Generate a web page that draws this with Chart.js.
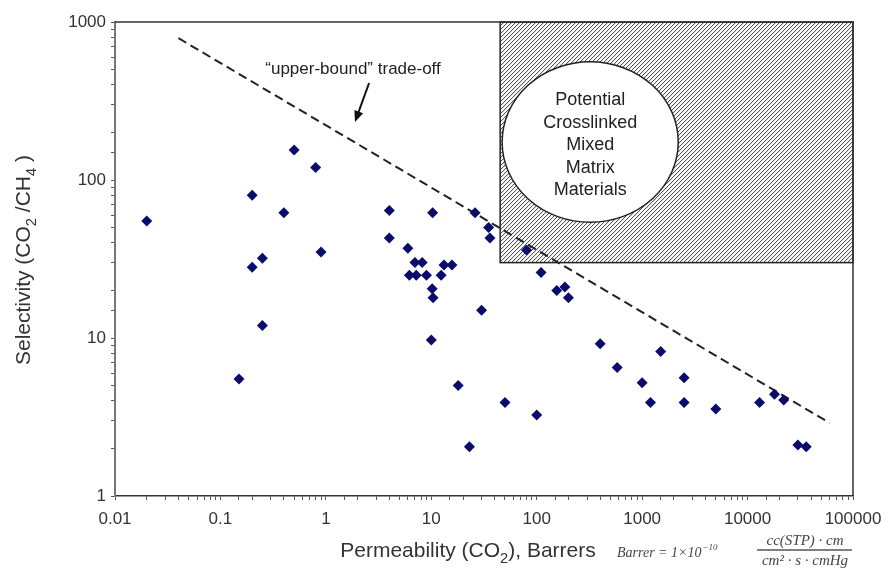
<!DOCTYPE html>
<html>
<head>
<meta charset="utf-8">
<script src="https://cdn.jsdelivr.net/npm/chart.js@4.4.1/dist/chart.umd.min.js"></script>
<style>
  html, body { margin: 0; padding: 0; background: #fff; }
</style>
</head>
<body>
<canvas id="chart" width="896" height="568"></canvas>
<script>
// CO2 permeability (Barrers) and CO2/CH4 selectivity of each membrane
const permeability = [
  0.02, 0.15, 0.2, 0.2, 0.25, 0.25, 0.4, 0.5, 0.8, 0.9,
  4, 4, 6, 7, 8.2, 6.2, 7.2, 9, 10.3, 10.2,
  10.4, 10, 12.4, 13.2, 15.7, 18, 23, 26, 30, 35,
  36, 50, 80, 100, 110, 155, 185, 200, 400, 580,
  1000, 1200, 1500, 2500, 2500, 5000, 13000, 18000, 22000, 30000,
  36000
];
const selectivity = [
  55, 5.5, 80, 28, 32, 12, 62, 155, 120, 35,
  64, 43, 37, 30, 30, 25, 25, 25, 62, 20.5,
  18, 9.7, 25, 29, 29, 5, 2.05, 62, 15, 50,
  43, 3.9, 36, 3.25, 26, 20, 21, 18, 9.2, 6.5,
  5.2, 3.9, 8.2, 5.6, 3.9, 3.55, 3.9, 4.4, 4.05, 2.1,
  2.05
];

// upper-bound trade-off line end points
const boundPerm = [0.04, 60000];
const boundSel = [790, 2.9];

// target region for crosslinked mixed matrix materials
const zonePerm = [45, 100000];
const zoneSel = [30, 1000];
const ovalPerm = [47, 2200];
const ovalSel = [54, 560];
const zoneLines = ['Potential', 'Crosslinked', 'Mixed', 'Matrix', 'Materials'];

// annotation: text position and arrow (tail -> head)
const boundText = '\u201Cupper-bound\u201D trade-off';
const boundTextAt = [1.81, 504];
const arrowFrom = [2.57, 411];
const arrowTo = [1.89, 233];

const FONT = '"Liberation Sans", Arial, sans-serif';
const SERIF = '"Liberation Serif", "Times New Roman", serif';

const points = permeability.map((p, i) => ({ x: p, y: selectivity[i] }));
const boundLine = boundPerm.map((p, i) => ({ x: p, y: boundSel[i] }));

function decadeLabel(v) {
  const e = Math.log10(v);
  if (Math.abs(e - Math.round(e)) > 1e-6) return '';
  return String(Math.pow(10, Math.round(e)));
}

// draws text with subscripts, centred on x
function richText(ctx, parts, x, y, size) {
  let w = 0;
  parts.forEach(([t, sub]) => {
    ctx.font = (sub ? size * 0.7 : size) + 'px ' + FONT;
    w += ctx.measureText(t).width;
  });
  let cx = x - w / 2;
  ctx.textAlign = 'left';
  parts.forEach(([t, sub]) => {
    ctx.font = (sub ? size * 0.7 : size) + 'px ' + FONT;
    ctx.fillText(t, cx, sub ? y + size * 0.28 : y);
    cx += ctx.measureText(t).width;
  });
}

const decorations = {
  id: 'decorations',
  beforeDatasetsDraw(chart) {
    const { ctx, scales: { x, y } } = chart;
    const x0 = x.getPixelForValue(zonePerm[0]), x1 = x.getPixelForValue(zonePerm[1]);
    const y0 = y.getPixelForValue(zoneSel[1]), y1 = y.getPixelForValue(zoneSel[0]);
    ctx.save();
    // hatched region
    ctx.beginPath();
    ctx.rect(x0, y0, x1 - x0, y1 - y0);
    ctx.clip();
    ctx.strokeStyle = '#3a3a3a';
    ctx.lineWidth = 1;
    const h = y1 - y0;
    ctx.beginPath();
    for (let s = x0 - h; s < x1 + h; s += 4) {
      ctx.moveTo(s, y1);
      ctx.lineTo(s + h, y0);
    }
    ctx.stroke();
    ctx.restore();

    ctx.save();
    ctx.strokeStyle = '#222';
    ctx.lineWidth = 1.5;
    ctx.strokeRect(x0, y0, x1 - x0, y1 - y0);

    // oval label
    const ox0 = x.getPixelForValue(ovalPerm[0]), ox1 = x.getPixelForValue(ovalPerm[1]);
    const oy0 = y.getPixelForValue(ovalSel[1]), oy1 = y.getPixelForValue(ovalSel[0]);
    const cx = (ox0 + ox1) / 2, cy = (oy0 + oy1) / 2;
    ctx.beginPath();
    ctx.ellipse(cx, cy, (ox1 - ox0) / 2, (oy1 - oy0) / 2, 0, 0, Math.PI * 2);
    ctx.fillStyle = '#fff';
    ctx.fill();
    ctx.stroke();
    ctx.fillStyle = '#222';
    ctx.font = '18px ' + FONT;
    ctx.textAlign = 'center';
    ctx.textBaseline = 'middle';
    zoneLines.forEach((t, i) => {
      ctx.fillText(t, cx, cy - 42 + i * 22.5);
    });
    ctx.restore();
  },
  afterDraw(chart) {
    const { ctx, chartArea: a, scales: { x, y } } = chart;
    ctx.save();
    // frame top and right
    ctx.strokeStyle = '#333';
    ctx.lineWidth = 1.5;
    ctx.beginPath();
    ctx.moveTo(a.left, a.top);
    ctx.lineTo(a.right, a.top);
    ctx.lineTo(a.right, a.bottom);
    ctx.stroke();

    // annotation text and arrow
    ctx.fillStyle = '#222';
    ctx.font = '17px ' + FONT;
    ctx.textAlign = 'center';
    ctx.textBaseline = 'middle';
    ctx.fillText(boundText, x.getPixelForValue(boundTextAt[0]), y.getPixelForValue(boundTextAt[1]));
    const ax = x.getPixelForValue(arrowFrom[0]), ay = y.getPixelForValue(arrowFrom[1]);
    const bx = x.getPixelForValue(arrowTo[0]), by = y.getPixelForValue(arrowTo[1]);
    const ang = Math.atan2(by - ay, bx - ax);
    ctx.strokeStyle = '#111';
    ctx.lineWidth = 2;
    ctx.beginPath();
    ctx.moveTo(ax, ay);
    ctx.lineTo(bx - 8 * Math.cos(ang), by - 8 * Math.sin(ang));
    ctx.stroke();
    ctx.beginPath();
    ctx.moveTo(bx, by);
    ctx.lineTo(bx - 12 * Math.cos(ang - 0.4), by - 12 * Math.sin(ang - 0.4));
    ctx.lineTo(bx - 12 * Math.cos(ang + 0.4), by - 12 * Math.sin(ang + 0.4));
    ctx.closePath();
    ctx.fillStyle = '#111';
    ctx.fill();

    // axis titles
    ctx.fillStyle = '#333';
    ctx.textBaseline = 'alphabetic';
    richText(ctx, [['Permeability (CO', false], ['2', true], ['), Barrers', false]], 468, 557, 21);
    ctx.save();
    ctx.translate(30, 260);
    ctx.rotate(-Math.PI / 2);
    richText(ctx, [['Selectivity (CO', false], ['2', true], [' /CH', false], ['4', true], [' )', false]], 0, 0, 21);
    ctx.restore();

    // unit definition
    ctx.fillStyle = '#444';
    ctx.textAlign = 'left';
    ctx.font = 'italic 14px ' + SERIF;
    ctx.fillText('Barrer = 1\u00D710', 617, 557);
    const w = ctx.measureText('Barrer = 1\u00D710').width;
    ctx.font = 'italic 9px ' + SERIF;
    ctx.fillText('\u221210', 617 + w + 1, 550);
    ctx.font = 'italic 15px ' + SERIF;
    ctx.textAlign = 'center';
    ctx.fillText('cc(STP) \u00B7 cm', 805, 545);
    ctx.fillText('cm\u00B2 \u00B7 s \u00B7 cmHg', 805, 565);
    ctx.strokeStyle = '#555';
    ctx.lineWidth = 1.5;
    ctx.beginPath();
    ctx.moveTo(757, 550);
    ctx.lineTo(852, 550);
    ctx.stroke();
    ctx.restore();
  }
};

new Chart(document.getElementById('chart'), {
  type: 'scatter',
  data: {
    datasets: [
      {
        data: points,
        pointStyle: 'rectRot',
        pointRadius: 5.5,
        pointBackgroundColor: '#0b0b6b',
        pointBorderColor: '#0b0b6b',
        borderWidth: 0
      },
      {
        data: boundLine,
        showLine: true,
        borderColor: '#222',
        borderWidth: 2,
        borderDash: [9, 5],
        pointRadius: 0
      }
    ]
  },
  options: {
    responsive: false,
    animation: false,
    devicePixelRatio: 1,
    layout: { padding: { top: 22, right: 43, left: 0, bottom: 0 } },
    plugins: { legend: { display: false }, tooltip: { enabled: false } },
    scales: {
      x: {
        type: 'logarithmic',
        min: 0.01,
        max: 100000,
        afterFit(scale) { scale.height = 72; },
        grid: { drawOnChartArea: false, tickLength: 4, color: '#555' },
        border: { color: '#333', width: 1.5 },
        ticks: {
          autoSkip: false,
          maxRotation: 0,
          padding: 9,
          color: '#333',
          font: { family: FONT, size: 17 },
          callback: decadeLabel
        }
      },
      y: {
        type: 'logarithmic',
        min: 1,
        max: 1000,
        afterFit(scale) { scale.width = 115; },
        grid: { drawOnChartArea: false, tickLength: 4, color: '#555' },
        border: { color: '#777', width: 2 },
        ticks: {
          autoSkip: false,
          padding: 5,
          color: '#333',
          font: { family: FONT, size: 17 },
          callback: decadeLabel
        }
      }
    }
  },
  plugins: [decorations]
});
</script>
</body>
</html>
